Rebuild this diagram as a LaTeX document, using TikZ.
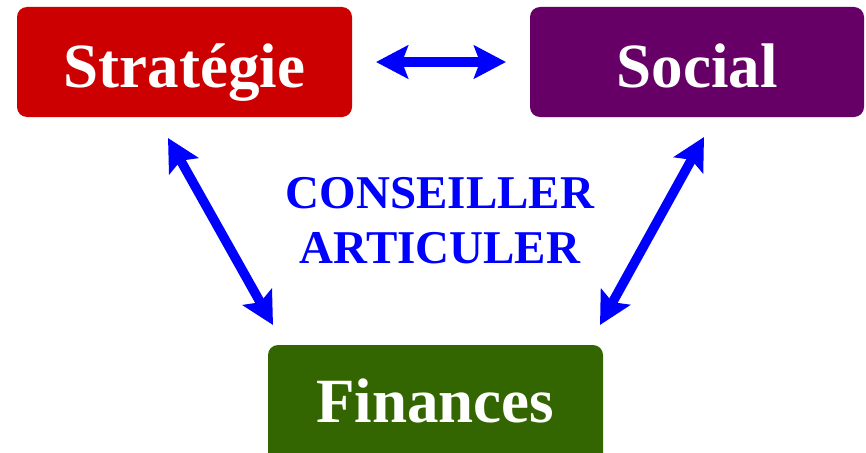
\documentclass[tikz,border=0pt]{standalone}
\usepackage{fontspec}
\setmainfont{Liberation Serif}
\usetikzlibrary{arrows.meta}
\definecolor{cstrat}{HTML}{CC0000}
\definecolor{csocial}{HTML}{660066}
\definecolor{cfin}{HTML}{336600}
\definecolor{cblue}{HTML}{0000FF}
\tikzset{
  boxshape/.style={rounded corners=10pt, line width=0pt},
  boxtext/.style={anchor=base, text=white, font=\fontsize{63}{63}\selectfont\bfseries, inner sep=0pt},
  midtext/.style={anchor=base, text=cblue, font=\fontsize{47}{47}\selectfont\bfseries, inner sep=0pt},
  bigarrow/.style={cblue, line width=9.5pt, {Stealth[length=32pt,width=33pt,inset=6pt]}-{Stealth[length=32pt,width=33pt,inset=6pt]}}
}
\begin{document}
\begin{tikzpicture}[x=1pt,y=-1pt]
\useasboundingbox (0,0) rectangle (866,452);
\fill[cstrat, boxshape] (17,7) rectangle (352,117);
\fill[csocial, boxshape] (530,7) rectangle (864,117);
\fill[cfin, boxshape] (268,345) rectangle (603,470);
\node[boxtext] (strat) at (184.5,87) {Stratégie};
\node[boxtext] (social) at (697,87) {Social};
\node[boxtext] (fin) at (435,422) {Finances};
\node[midtext] (l1) at (440,208) {CONSEILLER};
\node[midtext] (l2) at (440,263) {ARTICULER};
\coordinate (hA) at (376,62);
\coordinate (hB) at (506,62);
\coordinate (lA) at (168,138);
\coordinate (lB) at (273,325);
\coordinate (rA) at (704,137);
\coordinate (rB) at (600,325);
\draw[bigarrow] (hA) -- (hB);
\draw[bigarrow] (lA) -- (lB);
\draw[bigarrow] (rA) -- (rB);
\end{tikzpicture}
\end{document}
